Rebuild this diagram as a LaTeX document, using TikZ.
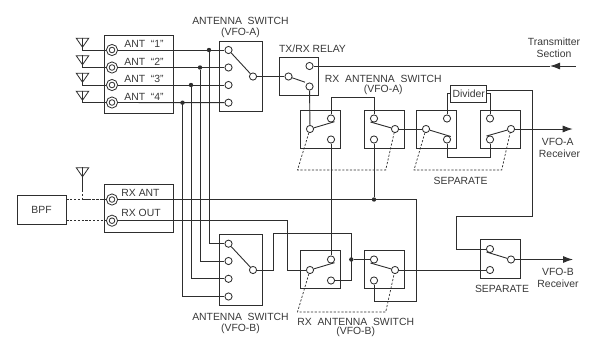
\documentclass[tikz,border=0pt]{standalone}
\usepackage{fontspec}
\setmainfont{Liberation Sans}
\usetikzlibrary{arrows.meta,shapes.geometric}
\newlength{\du}
\setlength{\du}{1pt}
\definecolor{dialinecolor}{rgb}{0.180000, 0.180000, 0.180000}
\definecolor{dialinetext}{rgb}{0.220000, 0.220000, 0.220000}
\tikzset{
  wire/.style={draw=dialinecolor,line width=0.900000\du},
  linkage/.style={draw=dialinecolor,line width=0.700000\du,dash pattern=on 2.2\du off 1.6\du},
  box/.style={draw=dialinecolor,line width=0.850000\du,inner sep=0pt},
  contact/.style={circle,draw=dialinecolor,fill=white,line width=0.850000\du,minimum size=7.2\du,inner sep=0pt},
  jack/.style={circle,draw=dialinecolor,fill=white,line width=0.800000\du,minimum size=11.2\du,inner sep=0pt,
    path picture={\draw[dialinecolor,line width=0.800000\du] (path picture bounding box.center) circle (2.8\du);}},
  junction/.style={circle,fill=dialinecolor,minimum size=4.4\du,inner sep=0pt},
  aerial/.style={isosceles triangle,isosceles triangle apex angle=70,isosceles triangle stretches=true,shape border rotate=-90,
    draw=dialinecolor,line width=0.800000\du,minimum width=12.5\du,minimum height=9\du,inner sep=0pt},
  lab/.style={text=dialinetext,inner sep=0pt,font=\fontsize{10.4}{12}\selectfont},
  head/.style={-{Latex[length=10pt,width=7pt]}}
}
\begin{document}
\begin{tikzpicture}
\pgftransformxscale{1.000000}
\pgftransformyscale{-1.000000}
\useasboundingbox (0\du,0\du) rectangle (589\du,338\du);
% boxes
\node[box,minimum width=69.5\du,minimum height=78\du] (antbox) at (138.75\du,74\du){};
\node[box,minimum width=69.5\du,minimum height=47.7\du] (rxbox) at (138.75\du,208.15\du){};
\node[box,lab,draw=dialinecolor,minimum width=49\du,minimum height=28.5\du] (bpf) at (41.5\du,209.75\du){BPF};
\node[box,minimum width=42.5\du,minimum height=70\du] (swa) at (240.75\du,76\du){};
\node[box,minimum width=42.5\du,minimum height=70.3\du] (swb) at (240.75\du,269.85\du){};
\node[box,minimum width=39.5\du,minimum height=38.5\du] (relay) at (298.75\du,76.25\du){};
\node[box,minimum width=39.3\du,minimum height=38\du] (rxa1) at (320.35\du,129\du){};
\node[box,minimum width=39.3\du,minimum height=38\du] (rxa2) at (384.5\du,129\du){};
\node[box,minimum width=39.3\du,minimum height=38\du] (sepa1) at (436.5\du,129\du){};
\node[box,minimum width=39.3\du,minimum height=38\du] (sepa2) at (500.5\du,129\du){};
\node[box,minimum width=39.3\du,minimum height=38\du] (rxb1) at (320.35\du,269.5\du){};
\node[box,minimum width=39.3\du,minimum height=38\du] (rxb2) at (384.5\du,269.5\du){};
\node[box,minimum width=39.3\du,minimum height=38.6\du] (sepb) at (500.5\du,259.2\du){};
\node[box,lab,minimum width=36\du,minimum height=17\du] (divider) at (468.7\du,93.5\du){Divider};
% aerials
\node[aerial] (aer1) at (82.5\du,41.5\du){};
\node[aerial] (aer2) at (82.5\du,59\du){};
\node[aerial] (aer3) at (82.5\du,76.5\du){};
\node[aerial] (aer4) at (82.5\du,94.5\du){};
\node[aerial] (aer5) at (82.5\du,171\du){};
\coordinate (aer1t) at (82.5\du,37.5\du);
\coordinate (aer2t) at (82.5\du,55\du);
\coordinate (aer3t) at (82.5\du,72.5\du);
\coordinate (aer4t) at (82.5\du,90.5\du);
\coordinate (aer5t) at (82.5\du,167\du);
\coordinate (aer5b) at (82.5\du,190\du);
% jacks
\node[jack] (jack1) at (112\du,50\du){};
\node[jack] (jack2) at (112\du,67.5\du){};
\node[jack] (jack3) at (112\du,85\du){};
\node[jack] (jack4) at (112\du,102.5\du){};
\node[jack] (jackant) at (112\du,199.5\du){};
\node[jack] (jackout) at (112\du,220.7\du){};
% antenna switch contacts
\node[contact] (ka1) at (228.5\du,50\du){};
\node[contact] (ka2) at (228.5\du,67.5\du){};
\node[contact] (ka3) at (228.5\du,85\du){};
\node[contact] (ka4) at (228.5\du,102.7\du){};
\node[contact] (pa) at (253\du,76.5\du){};
\node[contact] (kb1) at (228.5\du,243.7\du){};
\node[contact] (kb2) at (228.5\du,261\du){};
\node[contact] (kb3) at (228.5\du,278.8\du){};
\node[contact] (kb4) at (228.5\du,296.5\du){};
\node[contact] (pb) at (253\du,270\du){};
% relay and rx switch contacts
\node[contact] (relp) at (288.5\du,76.5\du){};
\node[contact] (relt) at (309.5\du,66\du){};
\node[contact] (relr) at (309.5\du,86.5\du){};
\node[contact] (rxa1p) at (310\du,129\du){};
\node[contact] (rxa1t) at (331\du,118.5\du){};
\node[contact] (rxa1b) at (331\du,139.5\du){};
\node[contact] (rxa2t) at (374\du,118.5\du){};
\node[contact] (rxa2b) at (374\du,139.5\du){};
\node[contact] (rxa2p) at (395\du,129\du){};
\node[contact] (sepa1p) at (426\du,129\du){};
\node[contact] (sepa1t) at (447\du,118.5\du){};
\node[contact] (sepa1b) at (447\du,139.5\du){};
\node[contact] (sepa2t) at (490\du,118.5\du){};
\node[contact] (sepa2b) at (490\du,139.5\du){};
\node[contact] (sepa2p) at (511\du,129\du){};
\node[contact] (rxb1p) at (310\du,270\du){};
\node[contact] (rxb1t) at (331\du,259.5\du){};
\node[contact] (rxb1b) at (331\du,280.5\du){};
\node[contact] (rxb2t) at (374\du,259.5\du){};
\node[contact] (rxb2b) at (374\du,280.5\du){};
\node[contact] (rxb2p) at (395\du,270\du){};
\node[contact] (sepbt) at (490\du,249\du){};
\node[contact] (sepbb) at (490\du,270\du){};
\node[contact] (sepbp) at (511\du,259.5\du){};
% junctions
\node[junction] (ja1) at (209\du,50\du){};
\node[junction] (ja2) at (200\du,67.5\du){};
\node[junction] (ja3) at (191\du,85\du){};
\node[junction] (ja4) at (182.5\du,102.7\du){};
\node[junction] (jrx) at (374\du,199.5\du){};
\node[junction] (jmix) at (351.3\du,259.5\du){};
% free ends and bends
\coordinate (txend) at (575.5\du,66\du);
\coordinate (txtip) at (550\du,66\du);
\coordinate (vfoa) at (572.7\du,129\du);
\coordinate (vfob) at (573\du,259.5\du);
\coordinate (topbar) at (352\du,97.3\du);
\coordinate (sepbar) at (468\du,157.5\du);
\coordinate (dividerout) at (532.3\du,90\du);
\coordinate (vfobrise) at (532.3\du,216.7\du);
\coordinate (vfobdrop) at (456.7\du,216.7\du);
\coordinate (vfobin) at (456.7\du,249\du);
\coordinate (mixup) at (273.3\du,233.3\du);
\coordinate (mixright) at (351.3\du,233.3\du);
\coordinate (outdrop) at (287.7\du,220.7\du);
\coordinate (antcorner) at (416\du,199.5\du);
\coordinate (antfoot) at (416\du,301.7\du);
\coordinate (backfoot) at (374\du,301.7\du);
% blade ends
\coordinate (relblade) at (305\du,82.2\du);
\coordinate (rxa1blade) at (334.5\du,121.7\du);
\coordinate (rxa2blade) at (370.5\du,122\du);
\coordinate (sepa1blade) at (450.8\du,136.5\du);
\coordinate (sepa2blade) at (486.5\du,136\du);
\coordinate (rxb1blade) at (334.5\du,262.7\du);
\coordinate (rxb2blade) at (370.5\du,263\du);
\coordinate (sepbblade) at (486.5\du,252\du);
% switch blades
\draw[wire] (ka1) -- (pa);
\draw[wire] (kb1) -- (pb);
\draw[wire] (relp) -- (relblade);
\draw[wire] (rxa1p) -- (rxa1blade);
\draw[wire] (rxa2p) -- (rxa2blade);
\draw[wire] (sepa1p) -- (sepa1blade);
\draw[wire] (sepa2p) -- (sepa2blade);
\draw[wire] (rxb1p) -- (rxb1blade);
\draw[wire] (rxb2p) -- (rxb2blade);
\draw[wire] (sepbp) -- (sepbblade);
% antenna lines
\draw[wire] (aer1t) |- (jack1);
\draw[wire] (aer2t) |- (jack2);
\draw[wire] (aer3t) |- (jack3);
\draw[wire] (aer4t) |- (jack4);
\draw[wire] (jack1) -- (ka1);
\draw[wire] (jack2) -- (ka2);
\draw[wire] (jack3) -- (ka3);
\draw[wire] (jack4) -- (ka4);
\draw[wire] (ja1) |- (kb1);
\draw[wire] (ja2) |- (kb2);
\draw[wire] (ja3) |- (kb3);
\draw[wire] (ja4) |- (kb4);
\draw[wire] (pa) -- (relp);
\draw[wire,head] (txend) -- (txtip);
\draw[wire] (txtip) -- (relt);
\draw[wire] (relr) -- (rxa1p);
% rx vfo-a path
\draw[wire] (rxa1t) |- (topbar) -| (rxa2t);
\draw[wire] (rxa1b) -- (rxb1t);
\draw[wire] (rxa2b) -- (jrx);
\draw[wire] (rxa2p) -- (sepa1p);
\draw[wire] (sepa1t) |- (divider.west);
\draw[wire] (sepa2t) |- (divider.east);
\draw[wire] (sepa1b) |- (sepbar) -| (sepa2b);
\draw[wire,head] (sepa2p) -- (vfoa);
\draw[wire] (divider.east |- dividerout) -- (dividerout) -- (vfobrise) -- (vfobdrop) -- (vfobin) -- (sepbt);
% rx vfo-b path
\draw[wire] (pb) -| (mixup) -- (mixright) |- (rxb1b);
\draw[wire] (jmix) -- (rxb2t);
\draw[wire] (rxb2p) -- (sepbb);
\draw[wire,head] (sepbp) -- (vfob);
\draw[wire] (jackant) -- (antcorner) -- (antfoot) -- (backfoot) -- (rxb2b);
\draw[wire] (jackout) -- (outdrop) |- (rxb1p);
% rear panel
\draw[wire] (aer5t) -- (aer5b);
\draw[linkage,line width=0.800000\du] (aer5b) |- (jackant);
\draw[linkage,line width=0.800000\du] (bpf.east |- jackant) -- (jackant);
\draw[linkage,line width=0.800000\du] (bpf.east |- jackout) -- (jackout);
% ganged switches
\coordinate (gangal) at (297.5\du,170\du);
\coordinate (gangar) at (385.7\du,170\du);
\coordinate (gangsl) at (414\du,170\du);
\coordinate (gangsr) at (501.7\du,170\du);
\coordinate (gangbl) at (297.5\du,312\du);
\coordinate (gangbr) at (385.7\du,312\du);
\draw[linkage] (rxa1p) -- (gangal) -- (gangar) -- (rxa2p);
\draw[linkage] (sepa1p) -- (gangsl) -- (gangsr) -- (sepa2p);
\draw[linkage] (rxb1p) -- (gangbl) -- (gangbr) -- (rxb2p);
% labels
\node[lab] (antlab1) at (144\du,44\du){ANT\ \ “1”};
\node[lab] (antlab2) at (144\du,62\du){ANT\ \ “2”};
\node[lab] (antlab3) at (144\du,79\du){ANT\ \ “3”};
\node[lab] (antlab4) at (144\du,97\du){ANT\ \ “4”};
\node[lab] (rxantlab) at (140.5\du,193\du){RX ANT};
\node[lab] (rxoutlab) at (141\du,213\du){RX OUT};
\node[lab] (swalab) at (240.5\du,20.5\du){ANTENNA\ \ SWITCH};
\node[lab] (swalab2) at (240.5\du,32.5\du){(VFO-A)};
\node[lab] (swblab) at (240.5\du,316.5\du){ANTENNA\ \ SWITCH};
\node[lab] (swblab2) at (240.5\du,328.5\du){(VFO-B)};
\node[lab] (relaylab) at (312.5\du,48.5\du){TX/RX RELAY};
\node[lab] (rxalab) at (383.3\du,78.5\du){RX\ \ ANTENNA\ \ SWITCH};
\node[lab] (rxalab2) at (383.3\du,89.5\du){(VFO-A)};
\node[lab] (rxblab) at (355.7\du,322\du){RX\ \ ANTENNA\ \ SWITCH};
\node[lab] (rxblab2) at (355.7\du,332\du){(VFO-B)};
\node[lab] (sepalab) at (460.7\du,181\du){SEPARATE};
\node[lab] (sepblab) at (502\du,289\du){SEPARATE};
\node[lab] (txlab) at (554\du,41.5\du){Transmitter};
\node[lab] (txlab2) at (554\du,53.5\du){Section};
\node[lab] (vfoalab) at (557.7\du,141.5\du){VFO-A};
\node[lab] (vfoalab2) at (559.5\du,153.5\du){Receiver};
\node[lab] (vfoblab) at (558\du,271.5\du){VFO-B};
\node[lab] (vfoblab2) at (558\du,283.5\du){Receiver};
\end{tikzpicture}
\end{document}
